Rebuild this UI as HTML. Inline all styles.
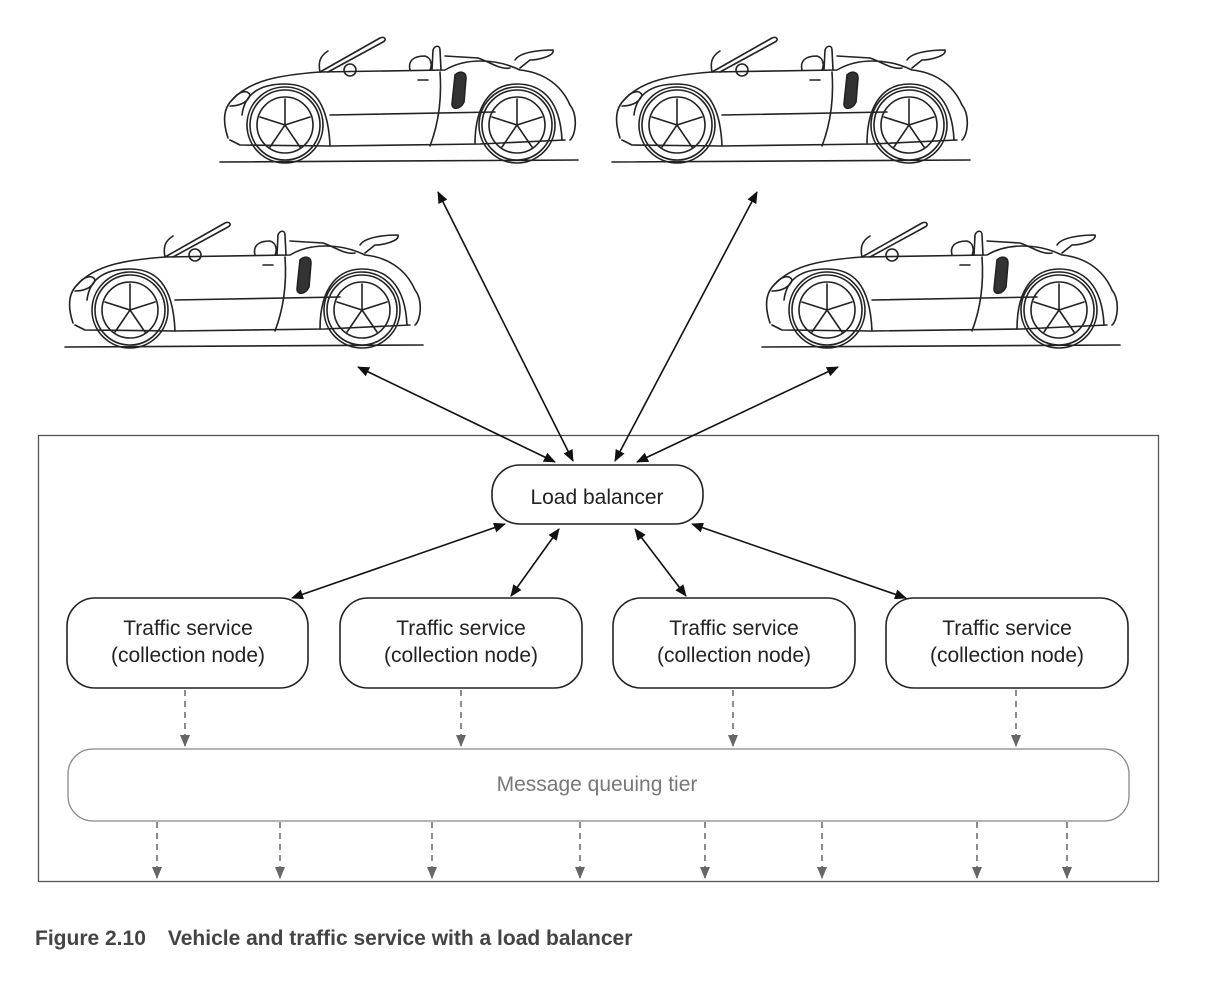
<!DOCTYPE html>
<html><head><meta charset="utf-8"><style>
html,body{margin:0;padding:0;background:#fff}
svg{display:block}
</style></head><body>
<svg width="1228" height="990" viewBox="0 0 1228 990" xmlns="http://www.w3.org/2000/svg">
<defs>
<marker id="ah" viewBox="0 0 12 10" refX="11" refY="5" markerWidth="12" markerHeight="10" markerUnits="userSpaceOnUse" orient="auto-start-reverse">
<path d="M0,0 L12,5 L0,10 z" fill="#111"/></marker>
<marker id="gh" viewBox="0 0 12 10" refX="11" refY="5" markerWidth="12" markerHeight="10" markerUnits="userSpaceOnUse" orient="auto">
<path d="M0,0 L12,5 L0,10 z" fill="#666"/></marker>
<g id="car" fill="none" stroke="#222" stroke-width="1.6" stroke-linejoin="round" stroke-linecap="round">
<path d="M0,142 L358,140"/>
<path d="M8,118 C2,100 4,88 12,80 C30,60 60,55 100,52 L225,50 C245,38 275,38 300,50 C320,52 340,62 350,85 C358,95 356,115 350,120"/>
<path d="M10,120 L20,125 L110,126 L260,124 L345,120"/>
<path d="M12,80 C20,70 28,70 30,75 C28,82 20,86 10,86"/>
<path d="M100,52 L160,18 C165,16 167,20 163,22 L108,52"/>
<path d="M100,52 C98,42 100,36 108,31"/>
<circle cx="130" cy="50" r="6"/>
<path d="M190,50 C188,42 192,36 205,36 C212,38 212,46 210,50"/>
<path d="M212,50 L213,30 C215,25 220,25 220,30 L221,50"/>
<path d="M225,36 L258,38 C270,42 280,50 290,48"/>
<path d="M295,40 C300,32 320,30 333,30 C335,36 318,40 310,40 L300,48"/>
<path d="M110,95 L275,92"/>
<path d="M220,52 C222,80 218,105 210,126"/>
<path d="M198,60 L208,60"/>
<circle cx="65" cy="105" r="38"/><circle cx="65" cy="105" r="35"/><circle cx="65" cy="105" r="28"/>
<circle cx="297" cy="105" r="38"/><circle cx="297" cy="105" r="35"/><circle cx="297" cy="105" r="28"/>
<path d="M65,105 L65,79 M65,105 L90,97 M65,105 L80,127 M65,105 L50,127 M65,105 L40,97"/>
<path d="M297,105 L297,79 M297,105 L322,97 M297,105 L312,127 M297,105 L282,127 M297,105 L272,97"/>
<path d="M22,95 C25,70 45,64 65,64 C90,64 108,78 110,126"/>
<path d="M255,124 C255,80 275,64 297,64 C320,64 340,78 342,120"/>
<path d="M235,55 C240,50 246,52 246,58 L244,82 C240,90 232,90 232,84 Z" fill="#333"/>
</g>
</defs>
<use href="#car" x="220" y="20"/>
<use href="#car" x="612" y="20"/>
<use href="#car" x="65" y="205"/>
<use href="#car" x="762" y="205"/>

<rect x="38.5" y="435.5" width="1120" height="446" fill="none" stroke="#555" stroke-width="1.3"/>

<g stroke="#111" stroke-width="1.6" fill="none">
<line x1="555" y1="462" x2="358" y2="367" marker-start="url(#ah)" marker-end="url(#ah)"/>
<line x1="573" y1="461" x2="438" y2="192" marker-start="url(#ah)" marker-end="url(#ah)"/>
<line x1="615" y1="461" x2="757" y2="192" marker-start="url(#ah)" marker-end="url(#ah)"/>
<line x1="637" y1="462" x2="838" y2="367" marker-start="url(#ah)" marker-end="url(#ah)"/>
<line x1="505" y1="524" x2="292" y2="598" marker-start="url(#ah)" marker-end="url(#ah)"/>
<line x1="559" y1="529" x2="511" y2="596" marker-start="url(#ah)" marker-end="url(#ah)"/>
<line x1="635" y1="529" x2="686" y2="596" marker-start="url(#ah)" marker-end="url(#ah)"/>
<line x1="692" y1="524" x2="906" y2="598" marker-start="url(#ah)" marker-end="url(#ah)"/>
</g>

<g fill="#fff" stroke="#222" stroke-width="1.6">
<rect x="492" y="465" width="211" height="59" rx="28"/>
<rect x="67" y="598" width="241" height="90" rx="28"/>
<rect x="340" y="598" width="242" height="90" rx="28"/>
<rect x="613" y="598" width="242" height="90" rx="28"/>
<rect x="886" y="598" width="242" height="90" rx="28"/>
</g>
<rect x="68" y="749" width="1061" height="72" rx="25" fill="none" stroke="#888" stroke-width="1.3"/>

<g font-family="Liberation Sans, sans-serif" font-size="21" fill="#222" text-anchor="middle">
<text x="597" y="504">Load balancer</text>
<text x="188" y="635">Traffic service</text><text x="188" y="662">(collection node)</text>
<text x="461" y="635">Traffic service</text><text x="461" y="662">(collection node)</text>
<text x="734" y="635">Traffic service</text><text x="734" y="662">(collection node)</text>
<text x="1007" y="635">Traffic service</text><text x="1007" y="662">(collection node)</text>
<text x="597" y="791" fill="#777">Message queuing tier</text>
</g>

<g stroke="#666" stroke-width="1.5" stroke-dasharray="6,5" fill="none">
<line x1="185" y1="690" x2="185" y2="746" marker-end="url(#gh)"/>
<line x1="461" y1="690" x2="461" y2="746" marker-end="url(#gh)"/>
<line x1="733" y1="690" x2="733" y2="746" marker-end="url(#gh)"/>
<line x1="1016" y1="690" x2="1016" y2="746" marker-end="url(#gh)"/>
<line x1="157" y1="822" x2="157" y2="878" marker-end="url(#gh)"/>
<line x1="280" y1="822" x2="280" y2="878" marker-end="url(#gh)"/>
<line x1="432" y1="822" x2="432" y2="878" marker-end="url(#gh)"/>
<line x1="580" y1="822" x2="580" y2="878" marker-end="url(#gh)"/>
<line x1="705" y1="822" x2="705" y2="878" marker-end="url(#gh)"/>
<line x1="822" y1="822" x2="822" y2="878" marker-end="url(#gh)"/>
<line x1="977" y1="822" x2="977" y2="878" marker-end="url(#gh)"/>
<line x1="1067" y1="822" x2="1067" y2="878" marker-end="url(#gh)"/>
</g>

<text x="35" y="945" font-family="Liberation Sans, sans-serif" font-size="21" font-weight="bold" fill="#444">Figure 2.10<tspan dx="22">Vehicle and traffic service with a load balancer</tspan></text>
</svg>
</body></html>
